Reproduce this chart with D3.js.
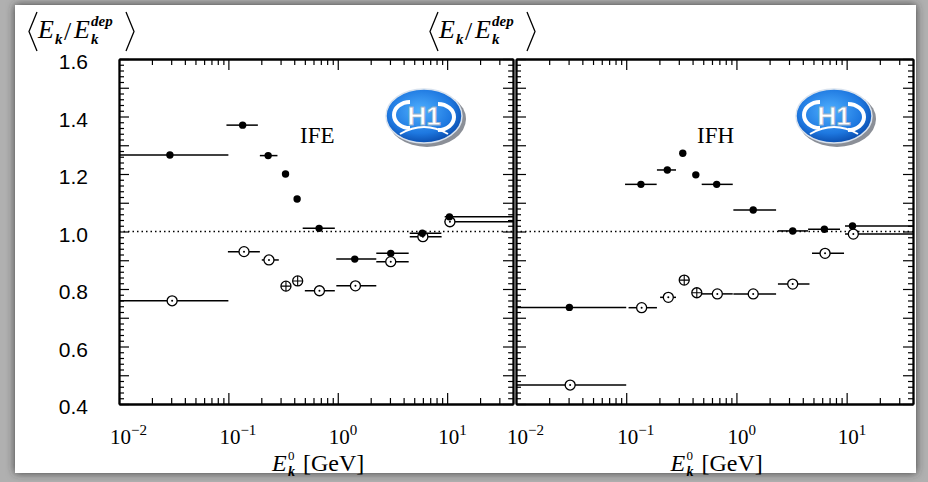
<!DOCTYPE html>
<html>
<head>
<meta charset="utf-8">
<script src="https://cdn.jsdelivr.net/npm/d3@7"></script>
<style>
  body { margin: 0; background: #a8a8a8; }
  svg { display: block; }
  .ax .domain { stroke: #000; stroke-width: 1.8; }
  .ax line { stroke: #000; stroke-width: 1.2; }
</style>
</head>
<body>
<div id="chart"></div>
<script>
// values: [E centre (GeV), <Ek/Ek_dep>, bin low, bin high]
// points with no visible bin bar have low = high = centre
const ifeFull = [
  [0.0292, 1.266, 0.01, 0.1],
  [0.135, 1.370, 0.096, 0.186],
  [0.231, 1.264, 0.194, 0.281],
  [0.333, 1.200, 0.333, 0.333],
  [0.425, 1.113, 0.425, 0.425],
  [0.675, 1.011, 0.478, 0.94],
  [1.43, 0.904, 0.969, 2.25],
  [3.05, 0.924, 2.25, 4.45],
  [5.93, 0.994, 4.55, 8.85],
  [10.5, 1.051, 9.5, 40]
];
const ifeOpen = [
  [0.0306, 0.759, 0.01, 0.1],
  [0.139, 0.930, 0.099, 0.194],
  [0.235, 0.901, 0.202, 0.289],
  [0.68, 0.794, 0.50, 0.94],
  [1.45, 0.811, 0.97, 2.25],
  [3.05, 0.895, 2.25, 4.45],
  [6.0, 0.982, 4.55, 8.9],
  [10.6, 1.034, 9.5, 40]
];
const ifeCross = [[0.336, 0.810], [0.43, 0.828]];

const ifhFull = [
  [0.0305, 0.736, 0.01, 0.1],
  [0.136, 1.164, 0.0976, 0.189],
  [0.236, 1.214, 0.19, 0.283],
  [0.326, 1.272, 0.326, 0.326],
  [0.428, 1.197, 0.428, 0.428],
  [0.662, 1.164, 0.484, 0.926],
  [1.42, 1.075, 0.938, 2.29],
  [3.24, 1.002, 2.38, 4.47],
  [6.28, 1.008, 4.47, 8.71],
  [11.3, 1.019, 9.66, 40]
];
const ifhOpen = [
  [0.031, 0.466, 0.01, 0.1],
  [0.138, 0.735, 0.105, 0.19],
  [0.241, 0.771, 0.203, 0.283],
  [0.671, 0.783, 0.484, 0.926],
  [1.42, 0.783, 0.938, 2.29],
  [3.24, 0.817, 2.38, 4.6],
  [6.37, 0.924, 4.85, 9.47],
  [11.5, 0.991, 9.66, 40]
];
const ifhCross = [[0.336, 0.831], [0.437, 0.787]];

const yMajor = d3.range(4, 17).map(d => d / 10);
const yMinor = d3.range(20, 81).map(d => d / 50).filter(d => Math.round(d * 50) % 5 !== 0);
const decades = [0.01, 0.1, 1, 10];
const decadeExp = ["−2", "−1", "0", "1"];
const yLabels = ["0.4", "0.6", "0.8", "1.0", "1.2", "1.4", "1.6"];

const W = 928, H = 482;
const svg = d3.select("#chart").append("svg").attr("width", W).attr("height", H);

const defs = svg.append("defs");
const sh = defs.append("filter").attr("id", "shadow").attr("x", "-5%").attr("y", "-5%")
  .attr("width", "110%").attr("height", "110%");
sh.append("feDropShadow").attr("dx", 0).attr("dy", 0).attr("stdDeviation", 4)
  .attr("flood-color", "#333").attr("flood-opacity", 0.9);
const grad = defs.append("radialGradient").attr("id", "blue").attr("cx", "45%").attr("cy", "40%").attr("r", "60%");
grad.append("stop").attr("offset", "0%").attr("stop-color", "#4fb0ff");
grad.append("stop").attr("offset", "70%").attr("stop-color", "#1e78e0");
grad.append("stop").attr("offset", "100%").attr("stop-color", "#0b4fb0");

svg.append("rect").attr("width", W).attr("height", H).attr("fill", "#b0b0b0");
svg.append("rect").attr("x", 15).attr("y", 5).attr("width", 901).attr("height", 468)
  .attr("fill", "#fff").attr("filter", "url(#shadow)");

const y = d3.scaleLinear().domain([0.4, 1.6]).range([404, 59]);

// y tick labels, left side only
svg.append("g").selectAll("text").data(yLabels).join("text")
  .attr("x", 88).attr("y", d => y(+d) + 10)
  .attr("text-anchor", "end")
  .attr("font-family", "Liberation Sans, Arial, sans-serif").attr("font-size", 21)
  .text(d => d);

function mathTitle(x0) {
  const g = svg.append("g").attr("font-family", "Liberation Serif, Times New Roman, serif")
    .attr("font-style", "italic");
  g.append("path").attr("d", `M${x0 + 8},12 L${x0},31.5 L${x0 + 8},51`)
    .attr("fill", "none").attr("stroke", "#000").attr("stroke-width", 1.3);
  g.append("text").attr("x", x0 + 9).attr("y", 38).attr("font-size", 26).text("E");
  g.append("text").attr("x", x0 + 26).attr("y", 44).attr("font-size", 15).attr("font-weight", "bold").text("k");
  g.append("text").attr("x", x0 + 35).attr("y", 40).attr("font-size", 26).attr("font-style", "normal").text("/");
  g.append("text").attr("x", x0 + 45).attr("y", 38).attr("font-size", 26).text("E");
  g.append("text").attr("x", x0 + 62).attr("y", 26).attr("font-size", 15).attr("font-weight", "bold").text("dep");
  g.append("text").attr("x", x0 + 62).attr("y", 44).attr("font-size", 15).attr("font-weight", "bold").text("k");
  g.append("path").attr("d", `M${x0 + 97},12 L${x0 + 105},31.5 L${x0 + 97},51`)
    .attr("fill", "none").attr("stroke", "#000").attr("stroke-width", 1.3);
}
mathTitle(29);
mathTitle(430);

function drawLogo(cx, cy) {
  const g = svg.append("g");
  g.append("ellipse").attr("cx", cx + 3).attr("cy", cy + 3).attr("rx", 39).attr("ry", 28).attr("fill", "#8b8f97");
  g.append("ellipse").attr("cx", cx).attr("cy", cy).attr("rx", 38).attr("ry", 27)
    .attr("fill", "url(#blue)").attr("stroke", "#d8e2ee").attr("stroke-width", 1.5);
  g.append("path").attr("d", `M${cx - 14},${cy - 14} A16,13 0 1 0 ${cx - 14},${cy + 12}`)
    .attr("fill", "none").attr("stroke", "#fff").attr("stroke-width", 4);
  g.append("path").attr("d", `M${cx + 14},${cy - 12} A16,13 0 1 1 ${cx + 14},${cy + 14}`)
    .attr("fill", "none").attr("stroke", "#fff").attr("stroke-width", 4);
  g.append("path").attr("d", `M${cx - 24},${cy + 18} Q${cx},${cy + 4} ${cx + 24},${cy + 18}`)
    .attr("fill", "none").attr("stroke", "#fff").attr("stroke-width", 2);
  g.append("text").attr("x", cx).attr("y", cy + 9).attr("text-anchor", "middle")
    .attr("font-family", "Liberation Sans, Arial, sans-serif").attr("font-weight", "bold")
    .attr("font-size", 26).attr("fill", "#fff").attr("stroke", "#9cb4cc").attr("stroke-width", 0.8)
    .text("H1");
}

const panels = [
  { name: "IFE", x0: 119, x1: 513, full: ifeFull, open: ifeOpen, cross: ifeCross, logo: 424 },
  { name: "IFH", x0: 516, x1: 913, full: ifhFull, open: ifhOpen, cross: ifhCross, logo: 834 }
];

panels.forEach(p => {
  const x = d3.scaleLog().domain([0.01, 40]).range([p.x0, p.x1]);
  const xMinor = x.ticks().filter(d => !decades.some(t => Math.abs(d / t - 1) < 1e-6));
  const g = svg.append("g");

  drawLogo(p.logo, 116);

  // frame with inward ticks on all four sides
  [[xMinor, 6], [decades, 11]].forEach(([vals, len]) => {
    g.append("g").attr("class", "ax").attr("transform", "translate(0,404)")
      .call(d3.axisBottom(x).tickValues(vals).tickSize(-len).tickSizeOuter(0).tickFormat(""));
    g.append("g").attr("class", "ax").attr("transform", "translate(0,59)")
      .call(d3.axisTop(x).tickValues(vals).tickSize(-len).tickSizeOuter(0).tickFormat(""));
  });
  [[yMinor, 5], [yMajor, 10]].forEach(([vals, len]) => {
    g.append("g").attr("class", "ax").attr("transform", `translate(${p.x0},0)`)
      .call(d3.axisLeft(y).tickValues(vals).tickSize(-len).tickSizeOuter(0).tickFormat(""));
    g.append("g").attr("class", "ax").attr("transform", `translate(${p.x1},0)`)
      .call(d3.axisRight(y).tickValues(vals).tickSize(-len).tickSizeOuter(0).tickFormat(""));
  });

  // x tick labels 10^n
  const lab = g.append("g").attr("font-family", "Liberation Serif, Times New Roman, serif");
  decades.forEach((d, i) => {
    const t = lab.append("text").attr("x", x(d) - 9).attr("y", 444).attr("font-size", 21);
    t.append("tspan").text("10");
    t.append("tspan").attr("font-size", 15).attr("dy", -9).text(decadeExp[i]);
  });

  // x axis title
  const mid = (p.x0 + p.x1) / 2;
  const tt = g.append("g").attr("font-family", "Liberation Serif, Times New Roman, serif");
  tt.append("text").attr("x", mid - 44).attr("y", 471).attr("font-size", 24).attr("font-style", "italic").text("E");
  tt.append("text").attr("x", mid - 28).attr("y", 460).attr("font-size", 13).text("0");
  tt.append("text").attr("x", mid - 28).attr("y", 476).attr("font-size", 14).attr("font-style", "italic").attr("font-weight", "bold").text("k");
  tt.append("text").attr("x", mid - 13).attr("y", 471).attr("font-size", 24).text("[GeV]");

  // panel label
  g.append("text").attr("x", p.name === "IFE" ? 300 : 697).attr("y", 143)
    .attr("font-family", "Liberation Serif, Times New Roman, serif").attr("font-size", 23)
    .text(p.name);

  // reference line at 1
  g.append("line").attr("x1", p.x0).attr("x2", p.x1).attr("y1", y(1)).attr("y2", y(1))
    .attr("stroke", "#000").attr("stroke-width", 1.6).attr("stroke-dasharray", "1.5,3");

  // bin bars
  g.selectAll(".bar").data(p.full.concat(p.open)).join("line")
    .attr("x1", d => x(d[2])).attr("x2", d => x(d[3]))
    .attr("y1", d => y(d[1])).attr("y2", d => y(d[1]))
    .attr("stroke", "#000").attr("stroke-width", 1.5);

  // open circles
  g.selectAll(".open").data(p.open).join("circle")
    .attr("cx", d => x(d[0])).attr("cy", d => y(d[1])).attr("r", 5)
    .attr("fill", "#fff").attr("stroke", "#000").attr("stroke-width", 1.3);
  g.selectAll(".odot").data(p.open).join("circle")
    .attr("cx", d => x(d[0])).attr("cy", d => y(d[1])).attr("r", 1).attr("fill", "#000");

  // crossed circles
  const cr = g.selectAll(".cross").data(p.cross).join("g")
    .attr("transform", d => `translate(${x(d[0])},${y(d[1])})`);
  cr.append("circle").attr("r", 5).attr("fill", "#fff").attr("stroke", "#000").attr("stroke-width", 1.3);
  cr.append("path").attr("d", "M-5,0H5M0,-5V5").attr("stroke", "#000").attr("stroke-width", 1.1);

  // filled dots
  g.selectAll(".full").data(p.full).join("circle")
    .attr("cx", d => x(d[0])).attr("cy", d => y(d[1])).attr("r", 3.7).attr("fill", "#000");
});
</script>
</body>
</html>
